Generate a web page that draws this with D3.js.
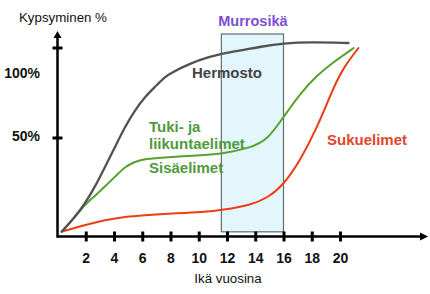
<!DOCTYPE html>
<html><head><meta charset="utf-8">
<script src="https://cdn.jsdelivr.net/npm/d3@7"></script>
<style>
html,body{margin:0;padding:0;background:#fff;}
svg{display:block;font-family:"Liberation Sans",Arial,sans-serif;}
</style></head>
<body><svg id="c" width="430" height="294"></svg>
<script>
// ---- data ----
const xTicks = [2,4,6,8,10,12,14,16,18,20];
const yTicks = [50,100];
const yTickLabels = ["50%","100%"];
const puberty = [11.6, 16];
const pubertyLabel = "Murrosikä";
const yTitle = "Kypsyminen %";
const xTitle = "Ikä vuosina";

const hermostoAge = [0.3,1.25,1.95,2.66,3.37,4.08,4.78,5.49,6.2,6.91,7.61,8.0,9.38,10.8,11.72,13.13,14.34,16,17.9,20.6];
const hermostoVal = [-2.3,6,13.4,22.7,33.8,44.9,56,65.3,72.7,78.2,83.8,85.7,91.2,94.9,96.8,98.6,100.4,102.3,103,102.5];

const tukiAge = [0.3,1.25,1.95,2.66,3.37,4.08,4.78,5.49,6.2,7.61,10.45,11.5,13.66,14.86,16,17.2,18.4,19.55,20.97];
const tukiVal = [-2.3,5.8,12.8,17.6,22.9,28.2,33.8,36.6,38.1,39,40.3,40.8,44.2,48.6,61.4,74.7,84.7,92,99.7];

const sukuAge = [0.3,1.95,3.37,4.78,6.2,7.61,10.45,11.65,13.66,14.86,16,17.2,18.4,19.55,20.26,21.3];
const sukuVal = [-2.3,1.4,4.2,6,6.9,7.6,8.6,9.7,12.5,16.4,23.6,37.5,55.8,78,89,99.7];

// ---- drawing ----
const svg = d3.select("#c");
const x = d3.scaleLinear().domain([0,20]).range([57.5,340]);
const y = d3.scaleLinear().domain([0,100]).range([227.5,47.5]);
const axisY = y(-5);      // baseline of x-axis
const font = '"Liberation Sans",Arial,sans-serif';

// puberty box
svg.append("rect")
  .attr("x", x(puberty[0])).attr("width", x(puberty[1]) - x(puberty[0]))
  .attr("y", y(107.5)).attr("height", y(-2.4) - y(107.5))
  .attr("fill", "#e2f6fc").attr("stroke", "#5f6e6e").attr("stroke-width", 1.2);

svg.append("text").attr("x", (x(puberty[0]) + x(puberty[1]))/2 + 0.5).attr("y", 26)
  .attr("text-anchor","middle").attr("font-size",14.5).attr("font-weight","bold")
  .attr("fill","#7a4fd4").text(pubertyLabel);

// labels
const lab = (t, xx, yy, col, anchor) => svg.append("text").attr("x",xx).attr("y",yy)
  .attr("font-size",15).attr("font-weight","bold").attr("fill",col)
  .attr("text-anchor",anchor||"start").text(t);
lab("Hermosto", 192, 78, "#444444");
lab("Tuki- ja", 149, 132, "#4f9a3c");
lab("liikuntaelimet", 149, 149, "#4f9a3c");
lab("Sisäelimet", 149, 173, "#4f9a3c");
lab("Sukuelimet", 327, 145, "#e0472b");

// curves
const line = d3.line().x(d => x(d[0])).y(d => y(d[1])).curve(d3.curveBasis);
const series = [
  {a: sukuAge, v: sukuVal, c: "#ec3d14", w: 2},
  {a: tukiAge, v: tukiVal, c: "#58a12e", w: 2},
  {a: hermostoAge, v: hermostoVal, c: "#525252", w: 2.3}
];
series.forEach(s => {
  svg.append("path").datum(s.a.map((a,i) => [a, s.v[i]]))
    .attr("d", line).attr("fill","none").attr("stroke", s.c)
    .attr("stroke-width", s.w).attr("stroke-linecap","round");
});

// x axis
const gx = svg.append("g").attr("transform", `translate(0,${axisY})`)
  .call(d3.axisBottom(x).tickValues(xTicks).tickSize(0).tickFormat(d3.format("d")));
gx.select(".domain").remove();
gx.selectAll("text").attr("dy", null).attr("y", 26.5)
  .attr("font-family", font).attr("font-size", 14).attr("font-weight","bold").attr("fill","#111");
gx.selectAll(".tick").append("line").attr("y1",-5).attr("y2",5)
  .attr("stroke","#000").attr("stroke-width",3);
svg.append("line").attr("x1", x(0)).attr("x2", 424).attr("y1", axisY).attr("y2", axisY)
  .attr("stroke","#000").attr("stroke-width",2.5);
svg.append("path").attr("d", `M428,${axisY} L420,${axisY-4} L420,${axisY+4} Z`).attr("fill","#000");

// y axis
const gy = svg.append("g").attr("transform", `translate(${x(0)},0)`)
  .call(d3.axisLeft(y).tickValues(yTicks).tickSize(0).tickFormat(""));
gy.select(".domain").remove();
gy.selectAll(".tick").append("line").attr("x1",-5).attr("x2",5)
  .attr("stroke","#000").attr("stroke-width",3);
svg.append("line").attr("x1", x(0)).attr("x2", x(0)).attr("y1", axisY + 1.2).attr("y2", 36)
  .attr("stroke","#000").attr("stroke-width",2.5);
svg.append("path").attr("d", `M${x(0)},31 L${x(0)-4},38 L${x(0)+4},38 Z`).attr("fill","#000");

// y tick labels (100% label sits lower than its tick in the original)
const labelShift = {50: 3.5, 100: 30};
svg.selectAll("text.ylab").data(yTicks).enter().append("text").attr("class","ylab")
  .attr("x", 40).attr("y", d => y(d) + labelShift[d])
  .attr("text-anchor","end").attr("font-size",14).attr("font-weight","bold").attr("fill","#111")
  .text((d,i) => yTickLabels[i]);

// titles
svg.append("text").attr("x",19).attr("y",22).attr("font-size",13.3).attr("fill","#111").text(yTitle);
svg.append("text").attr("x",228).attr("y",283).attr("text-anchor","middle")
  .attr("font-size",13.3).attr("fill","#111").text(xTitle);
</script></body></html>
